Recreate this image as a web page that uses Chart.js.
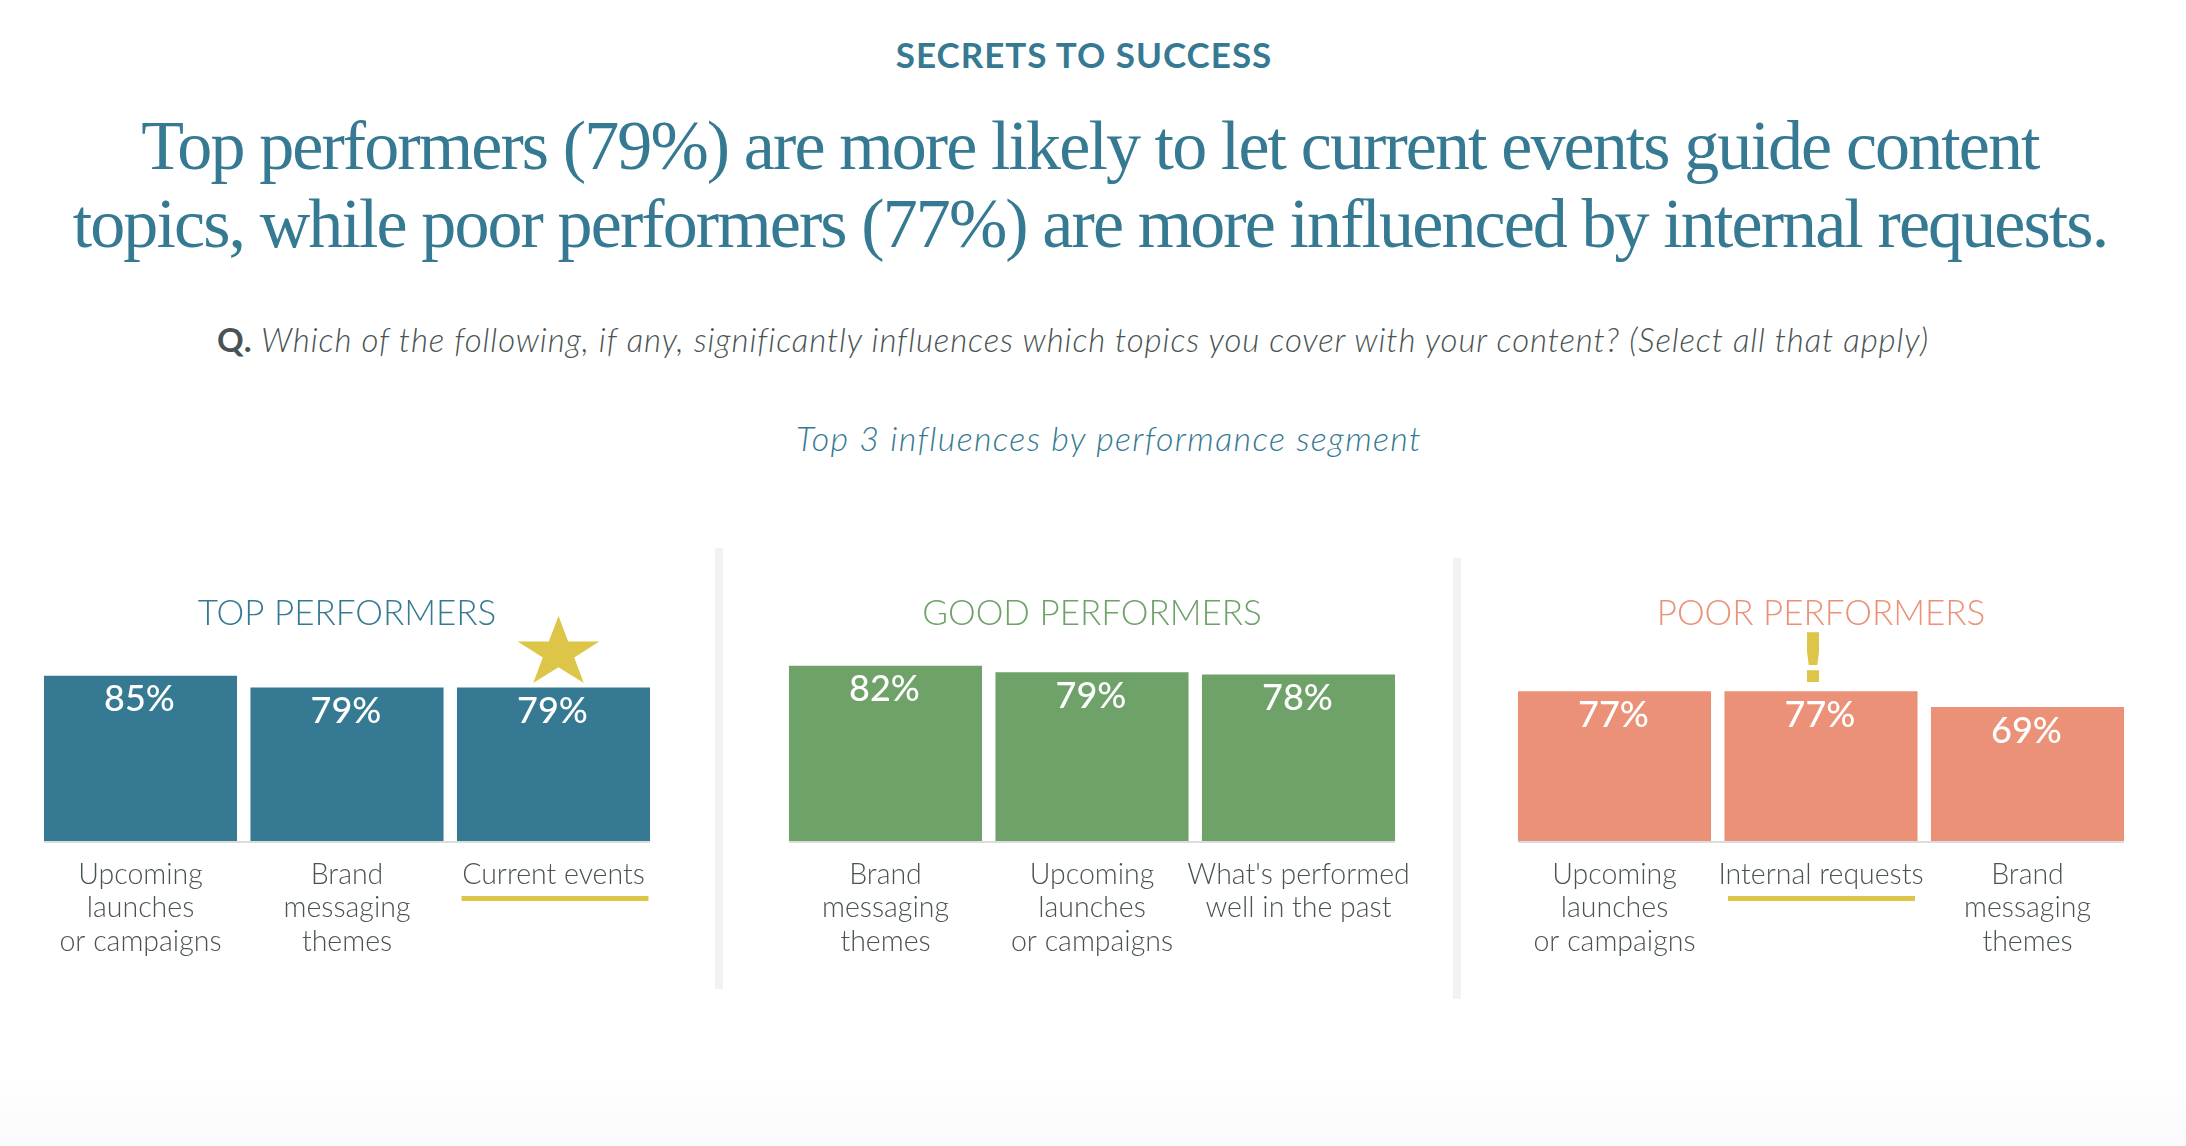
<!DOCTYPE html>
<html>
<head>
<meta charset="utf-8">
<script src="https://cdn.jsdelivr.net/npm/chart.js@4"></script>
<style>
  html, body { margin: 0; padding: 0; background: #fff; }
  #page { position: relative; width: 2186px; height: 1146px; overflow: hidden; background: linear-gradient(to bottom, #fff 1080px, #fafafa 1146px); }
  .txt { position: absolute; left: 0; white-space: nowrap; text-align: center; font-family: Lato, sans-serif; line-height: 1; }
  #kicker { top: 37px; width: 2168px; font-size: 35px; font-weight: 700; letter-spacing: 1px; color: #357a92; }
  .head { width: 2180px; font-family: "Liberation Serif", serif; font-size: 70px; letter-spacing: -1.9px; color: #357a92; line-height: 78px; }
  #question { top: 323px; width: 2146px; font-size: 33px; letter-spacing: 0.88px; color: #4a5354; font-style: italic; font-weight: 300; }
  #question b { font-style: normal; font-weight: 700; }
  #sub { top: 421px; width: 2218px; font-size: 34px; letter-spacing: 1.35px; color: #357a92; font-style: italic; font-weight: 300; }
  .rule { position: absolute; width: 8px; background: #f2f2f2; }
  canvas { position: absolute; top: 560px; }
</style>
</head>
<body>
<div id="page">
  <div class="txt" id="kicker">SECRETS TO SUCCESS</div>
  <div class="txt head" style="top:107px">Top performers (79%) are more likely to let current events guide content</div>
  <div class="txt head" style="top:185px">topics, while poor performers (77%) are more influenced by internal requests.</div>
  <div class="txt" id="question"><b>Q.</b> Which of the following, if any, significantly influences which topics you cover with your content? (Select all that apply)</div>
  <div class="txt" id="sub">Top 3 influences by performance segment</div>
  <div class="rule" style="left:715px;top:548px;height:441px"></div>
  <div class="rule" style="left:1453px;top:558px;height:441px"></div>
  <canvas id="chartTop" width="694" height="430" style="left:0px"></canvas>
  <canvas id="chartGood" width="694" height="430" style="left:745px"></canvas>
  <canvas id="chartPoor" width="660" height="430" style="left:1474px"></canvas>
</div>

<script>
// data
const segmentNames = ["TOP PERFORMERS", "GOOD PERFORMERS", "POOR PERFORMERS"];
const topLabels = [["Upcoming", "launches", "or campaigns"], ["Brand", "messaging", "themes"], ["Current events"]];
const topValues = [85, 79, 79];
const goodLabels = [["Brand", "messaging", "themes"], ["Upcoming", "launches", "or campaigns"], ["What's performed", "well in the past"]];
const goodValues = [82, 79, 78];
const poorLabels = [["Upcoming", "launches", "or campaigns"], ["Internal requests"], ["Brand", "messaging", "themes"]];
const poorValues = [77, 77, 69];

const TEAL = "#357a92";
const GREEN = "#6ea268";
const SALMON = "#eb9178";
const GOLD = "#ddc547";
const GREY_TEXT = "#4a5354";

// the three panels have different vertical scales in the original
const panelMax = [103.3, 94, 103.2];

// value labels + baseline + callouts
const barExtras = {
  id: "barExtras",
  afterDatasetsDraw(chart, args, opts) {
    const ctx = chart.ctx;
    const bars = chart.getDatasetMeta(0).data;
    const values = chart.data.datasets[0].data;

    ctx.save();
    ctx.strokeStyle = "#dcdcdc";
    ctx.lineWidth = 2;
    ctx.beginPath();
    ctx.moveTo(bars[0].x - bars[0].width / 2, chart.chartArea.bottom);
    ctx.lineTo(bars[2].x + bars[2].width / 2, chart.chartArea.bottom);
    ctx.stroke();

    ctx.fillStyle = "#fff";
    ctx.font = "500 36px Lato";
    ctx.textAlign = "center";
    ctx.textBaseline = "middle";
    bars.forEach((b, i) => {
      ctx.fillText(values[i] + "%", b.x - 1, b.y + 24);
    });

    if (opts.mark >= 0) {
      const b = bars[opts.mark];
      ctx.fillStyle = GOLD;
      ctx.fillRect(b.x - 93 + opts.lineShift, chart.chartArea.bottom + 54, 187, 5);
      if (opts.kind === "star") drawStar(ctx, b.x + 5, 93);
      if (opts.kind === "bang") {
        ctx.font = "bold 68px 'DejaVu Sans'";
        ctx.textBaseline = "alphabetic";
        ctx.fillText("!", b.x - 8, 122);
      }
    }
    ctx.restore();
  }
};

// the star is a bit squashed in the original
function drawStar(ctx, cx, cy) {
  const R = 43, r = 16.5, squash = 0.861;
  ctx.beginPath();
  for (let i = 0; i < 10; i++) {
    const a = -Math.PI / 2 + i * Math.PI / 5;
    const d = i % 2 ? r : R;
    ctx.lineTo(cx + d * Math.cos(a), cy + d * squash * Math.sin(a));
  }
  ctx.closePath();
  ctx.fill();
}

function makeChart(id, name, labels, values, color, yMax, padLeft, padRight, mark, kind, lineShift) {
  return new Chart(document.getElementById(id), {
    type: "bar",
    data: {
      labels,
      datasets: [{
        data: values,
        backgroundColor: color,
        barPercentage: 0.935,
        categoryPercentage: 1
      }]
    },
    plugins: [barExtras],
    options: {
      responsive: false,
      animation: false,
      devicePixelRatio: 1,
      layout: { padding: { left: padLeft, right: padRight, top: 0, bottom: 0 } },
      plugins: {
        legend: { display: false },
        tooltip: { enabled: false },
        title: {
          display: true,
          text: name,
          color,
          font: { family: "Lato", size: 35, weight: 300, lineHeight: "40px" },
          padding: { top: 34, bottom: 6 }
        },
        barExtras: { mark, kind, lineShift }
      },
      scales: {
        x: {
          grid: { display: false, drawTicks: false },
          border: { display: false },
          afterFit(scale) { scale.height = 148; },
          ticks: {
            autoSkip: false,
            maxRotation: 0,
            padding: 16,
            color: GREY_TEXT,
            font: { family: "Lato", size: 28.5, weight: 300, lineHeight: "33.5px" }
          }
        },
        y: { display: false, min: 0, max: yMax }
      }
    }
  });
}

makeChart("chartTop", segmentNames[0], topLabels, topValues, TEAL, panelMax[0], 37.25, 37.25, 2, "star", 1);
makeChart("chartGood", segmentNames[1], goodLabels, goodValues, GREEN, panelMax[1], 37.25, 37.25, -1, "", 0);
makeChart("chartPoor", segmentNames[2], poorLabels, poorValues, SALMON, panelMax[2], 37.25, 3.25, 1, "bang", 0);
</script>
</body>
</html>
